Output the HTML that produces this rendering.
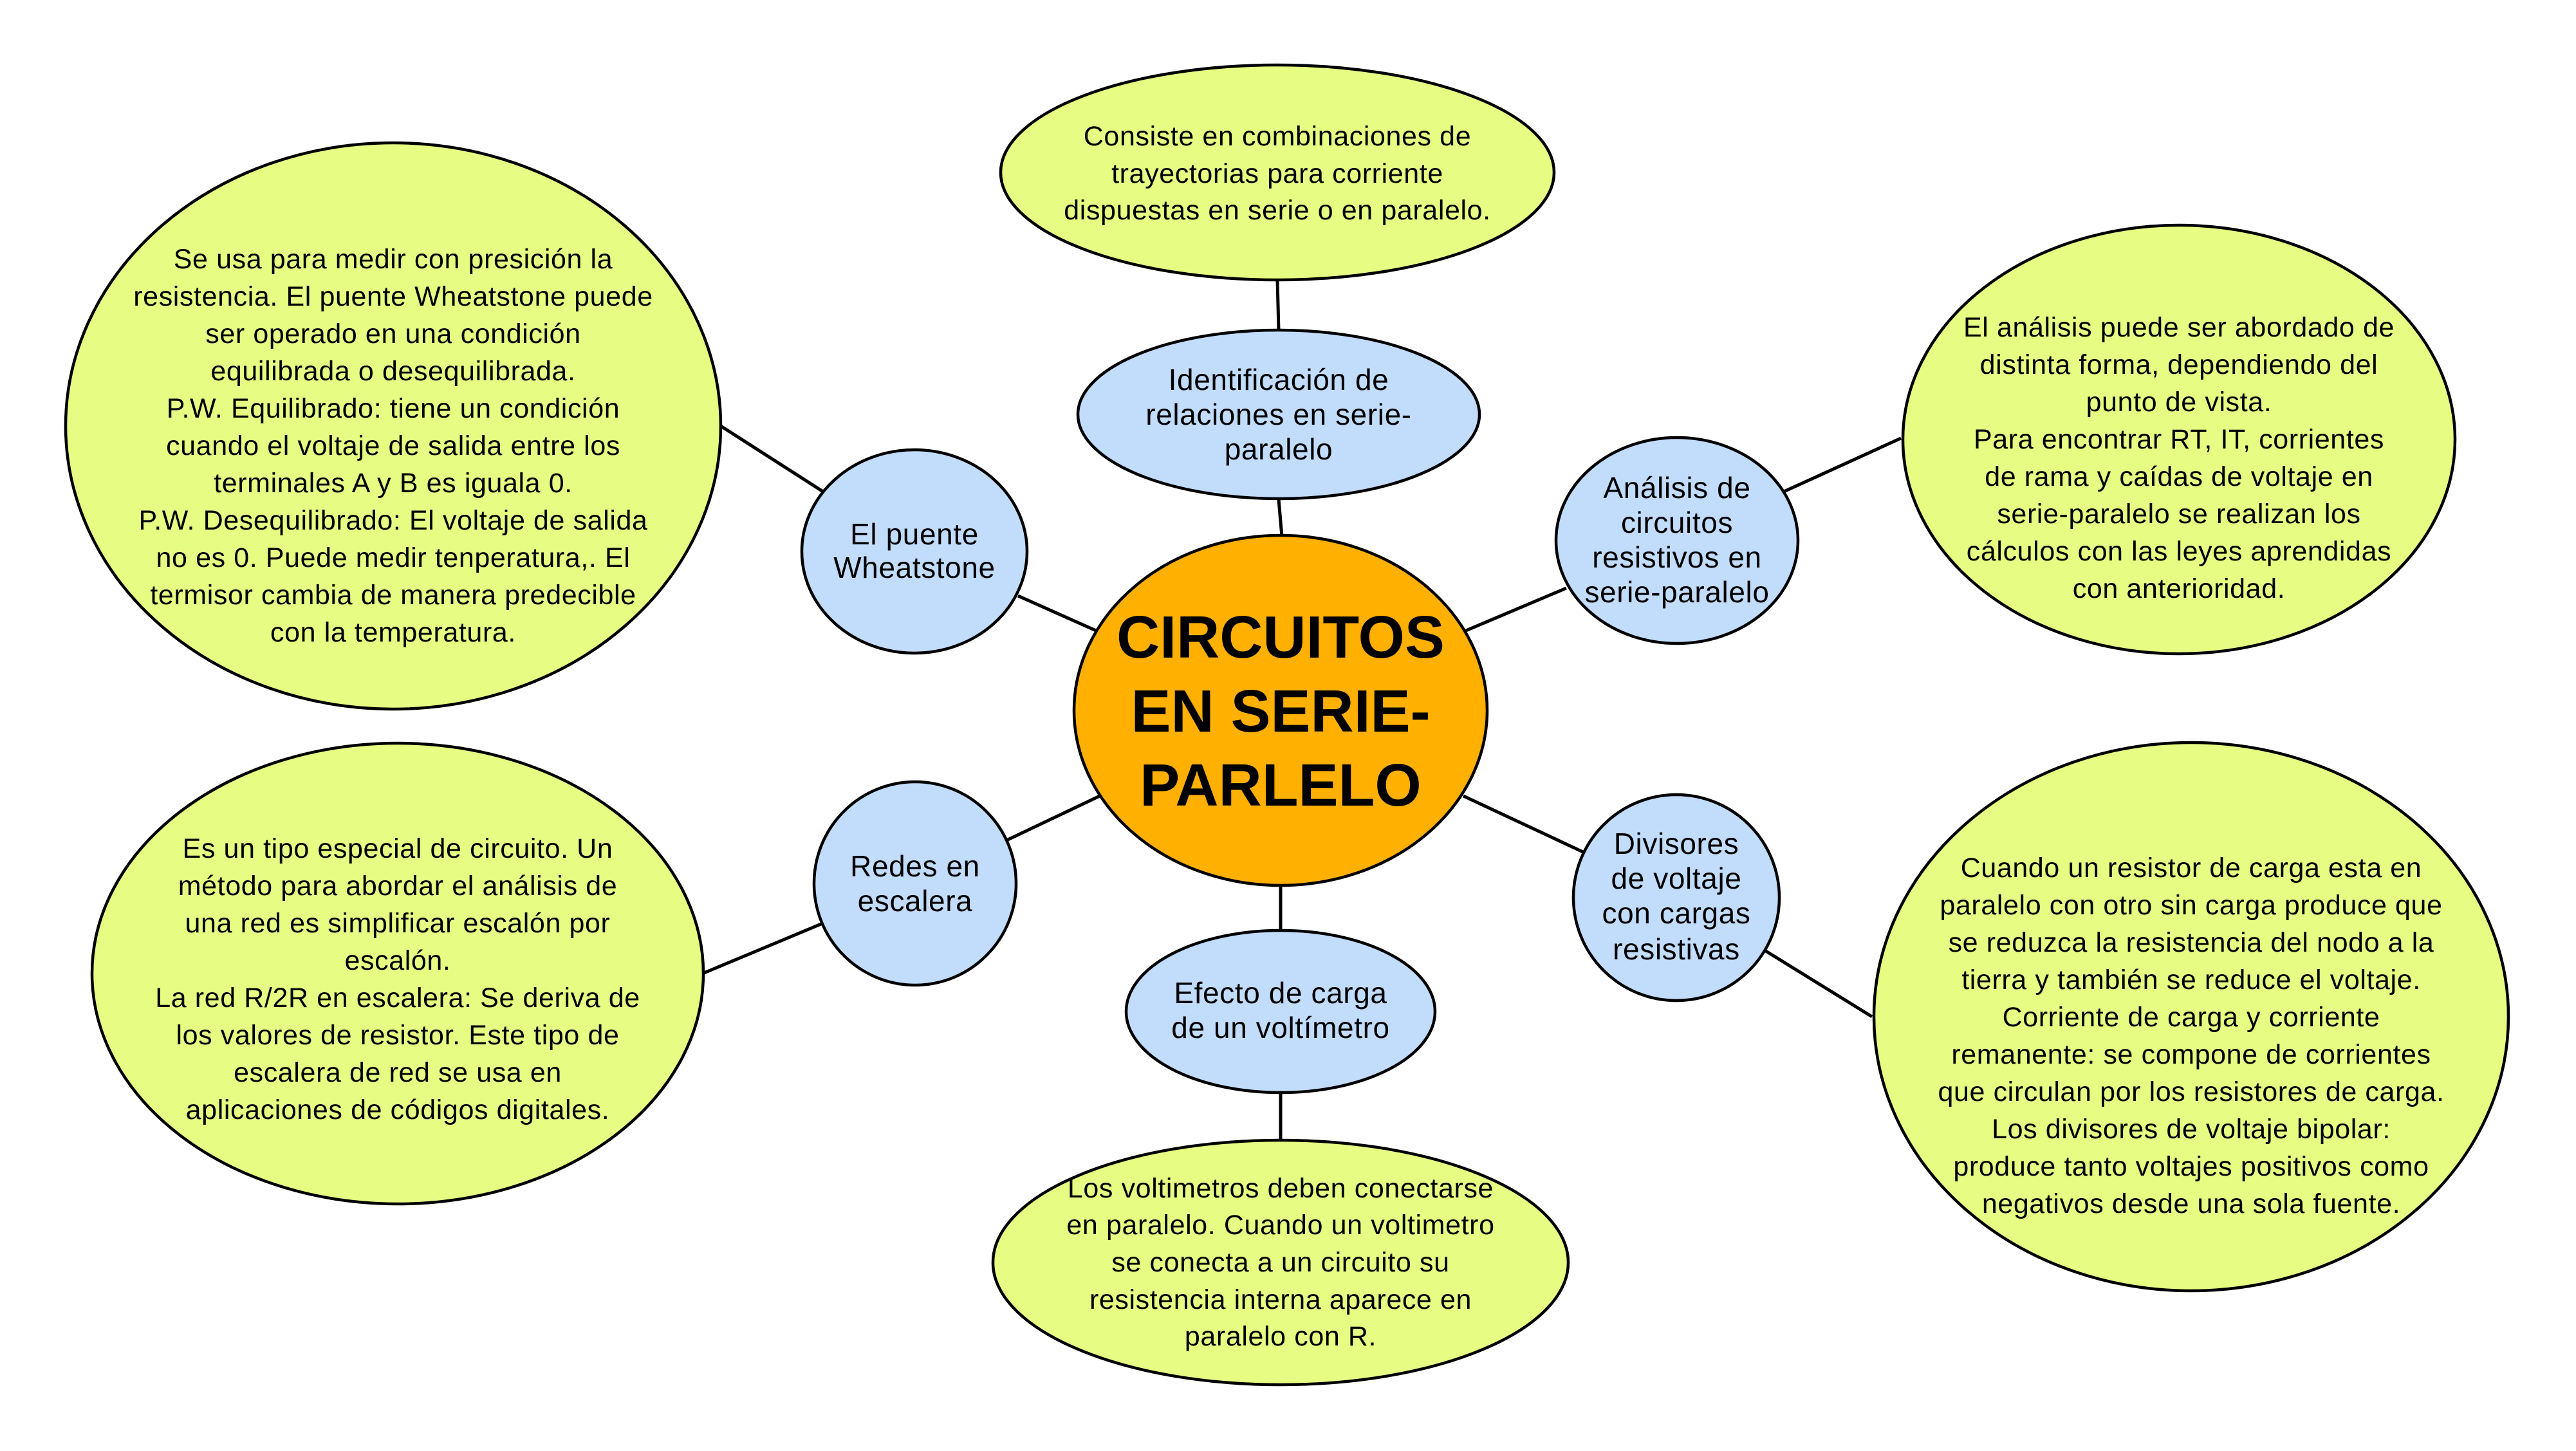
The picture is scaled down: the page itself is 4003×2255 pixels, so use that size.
<!DOCTYPE html>
<html><head><meta charset="utf-8"><style>
html,body{margin:0;padding:0;background:#fff;}
svg{display:block;}
text{font-family:"Liberation Sans",sans-serif;fill:#000;}
.t{font-size:43px;letter-spacing:0.6px;}
.b{font-size:46px;letter-spacing:0.6px;}
</style></head><body>
<svg width="4003" height="2255" viewBox="0 0 4003 2255" xmlns="http://www.w3.org/2000/svg">
<g stroke="#000" stroke-width="5" fill="none">
<line x1="1985" y1="435" x2="1987" y2="513"/>
<line x1="1987" y1="776" x2="1992" y2="834"/>
<line x1="1120" y1="662" x2="1279" y2="764"/>
<line x1="1582" y1="926" x2="1703" y2="980"/>
<line x1="2772" y1="764" x2="2954" y2="681"/>
<line x1="2278" y1="980" x2="2434" y2="914"/>
<line x1="1094" y1="1512" x2="1276" y2="1436"/>
<line x1="1566" y1="1305" x2="1709" y2="1237"/>
<line x1="2274" y1="1237" x2="2462" y2="1325"/>
<line x1="2744" y1="1478" x2="2909" y2="1580"/>
<line x1="1990" y1="1376" x2="1990" y2="1447"/>
<line x1="1990" y1="1698" x2="1990" y2="1771"/>
</g>
<g stroke="#000" stroke-width="4.5">
<ellipse cx="1985" cy="268" rx="430" ry="167" fill="#e6fc82"/>
<ellipse cx="611" cy="662" rx="509" ry="440" fill="#e6fc82"/>
<ellipse cx="3386" cy="683" rx="429" ry="333" fill="#e6fc82"/>
<ellipse cx="618" cy="1513" rx="475" ry="358" fill="#e6fc82"/>
<ellipse cx="3405" cy="1580" rx="493" ry="426" fill="#e6fc82"/>
<ellipse cx="1990" cy="1962" rx="447" ry="190" fill="#e6fc82"/>
<ellipse cx="1987" cy="644" rx="312" ry="131" fill="#c2dcfb"/>
<ellipse cx="1421" cy="857" rx="175" ry="158" fill="#c2dcfb"/>
<ellipse cx="2606" cy="840" rx="188" ry="160" fill="#c2dcfb"/>
<ellipse cx="1422" cy="1373" rx="157" ry="158" fill="#c2dcfb"/>
<ellipse cx="2605" cy="1395" rx="160" ry="160" fill="#c2dcfb"/>
<ellipse cx="1990" cy="1572" rx="240" ry="126" fill="#c2dcfb"/>
<ellipse cx="1990" cy="1104" rx="321" ry="272" fill="#ffb000"/>
</g>
<g text-anchor="middle">
<text x="1990" y="1022" font-size="93" font-weight="bold">CIRCUITOS</text>
<text x="1990" y="1137" font-size="93" font-weight="bold">EN SERIE-</text>
<text x="1990" y="1252" font-size="93" font-weight="bold">PARLELO</text>

<g class="t">
<text x="1985" y="226">Consiste en combinaciones de</text>
<text x="1985" y="284">trayectorias para corriente</text>
<text x="1985" y="341">dispuestas en serie o en paralelo.</text>
</g>
<g class="b">
<text x="1987" y="606">Identificación de</text>
<text x="1987" y="660">relaciones en serie-</text>
<text x="1987" y="714">paralelo</text>
<text x="1421" y="846">El puente</text>
<text x="1421" y="898">Wheatstone</text>
<text x="2606" y="774">Análisis de</text>
<text x="2606" y="828">circuitos</text>
<text x="2606" y="882">resistivos en</text>
<text x="2606" y="936">serie-paralelo</text>
<text x="1422" y="1362">Redes en</text>
<text x="1422" y="1416">escalera</text>
<text x="2605" y="1327">Divisores</text>
<text x="2605" y="1381">de voltaje</text>
<text x="2605" y="1435">con cargas</text>
<text x="2605" y="1491">resistivas</text>
<text x="1990" y="1559">Efecto de carga</text>
<text x="1990" y="1613">de un voltímetro</text>
</g>
<g class="t">
<text x="611" y="417">Se usa para medir  con presición la</text>
<text x="611" y="475">resistencia. El puente Wheatstone puede</text>
<text x="611" y="533">ser operado en una condición</text>
<text x="611" y="591">equilibrada o desequilibrada.</text>
<text x="611" y="649">P.W. Equilibrado: tiene un condición</text>
<text x="611" y="707">cuando el voltaje de salida entre los</text>
<text x="611" y="765">terminales A y B es iguala 0.</text>
<text x="611" y="823">P.W. Desequilibrado: El voltaje de salida</text>
<text x="611" y="881">no es 0. Puede medir tenperatura,. El</text>
<text x="611" y="939">termisor cambia de manera predecible</text>
<text x="611" y="997">con la temperatura.</text>

<text x="3386" y="523">El análisis puede ser abordado de</text>
<text x="3386" y="581">distinta forma, dependiendo del</text>
<text x="3386" y="639">punto de vista.</text>
<text x="3386" y="697">Para encontrar RT, IT, corrientes</text>
<text x="3386" y="755">de rama y caídas de voltaje en</text>
<text x="3386" y="813">serie-paralelo se realizan los</text>
<text x="3386" y="871">cálculos con las leyes aprendidas</text>
<text x="3386" y="929">con anterioridad.</text>

<text x="618" y="1333">Es un tipo especial de circuito.  Un</text>
<text x="618" y="1391">método para abordar el análisis de</text>
<text x="618" y="1449">una red es simplificar escalón por</text>
<text x="618" y="1507">escalón.</text>
<text x="618" y="1565">La red R/2R en escalera: Se deriva de</text>
<text x="618" y="1623">los valores de resistor. Este tipo de</text>
<text x="618" y="1681">escalera de red se usa en</text>
<text x="618" y="1739">aplicaciones de códigos digitales.</text>

<text x="3405" y="1363">Cuando un resistor de carga esta en</text>
<text x="3405" y="1421">paralelo con otro sin carga produce que</text>
<text x="3405" y="1479">se reduzca la resistencia del nodo a la</text>
<text x="3405" y="1537">tierra y también se reduce el voltaje.</text>
<text x="3405" y="1595">Corriente de carga y corriente</text>
<text x="3405" y="1653">remanente: se compone de corrientes</text>
<text x="3405" y="1711">que circulan por los resistores de carga.</text>
<text x="3405" y="1769">Los divisores de voltaje bipolar:</text>
<text x="3405" y="1827">produce tanto voltajes positivos como</text>
<text x="3405" y="1885">negativos desde una sola fuente.</text>

<text x="1990" y="1861">Los voltimetros deben conectarse</text>
<text x="1990" y="1918">en paralelo. Cuando un voltimetro</text>
<text x="1990" y="1976">se conecta a un circuito su</text>
<text x="1990" y="2034">resistencia interna aparece en</text>
<text x="1990" y="2091">paralelo con R.</text>
</g>
</g>
</svg>
</body></html>
